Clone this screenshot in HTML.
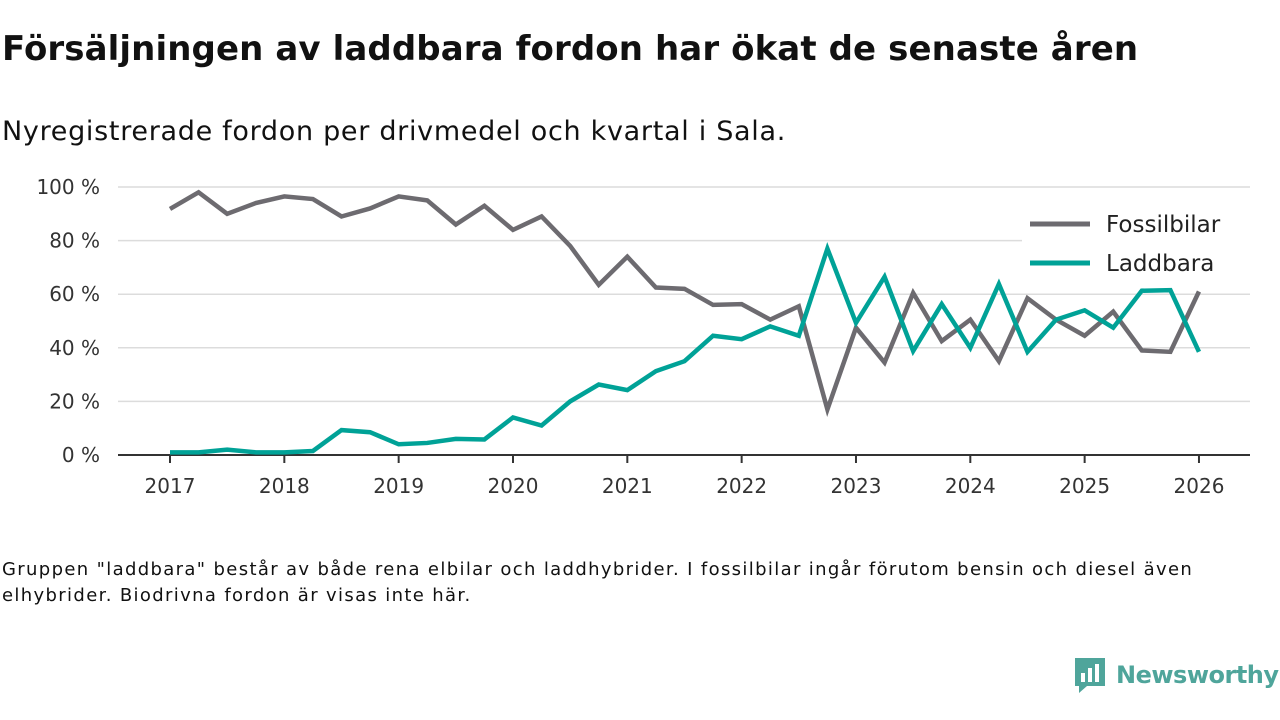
<!DOCTYPE html>
<html><head><meta charset="utf-8"><style>
body{margin:0;width:1280px;height:720px;background:#fff;font-family:"DejaVu Sans","Liberation Sans",sans-serif;overflow:hidden;position:relative}
.t{position:absolute;left:2px;top:29px;font-size:34px;font-weight:bold;color:#111;letter-spacing:0.1px;white-space:nowrap}
.s{position:absolute;left:2px;top:116px;font-size:27px;color:#111;letter-spacing:0.7px;white-space:nowrap}
.n{position:absolute;left:2px;top:557px;font-size:18px;color:#111;line-height:26px;width:1235px;letter-spacing:1.35px}
</style></head><body>
<div class="t">Försäljningen av laddbara fordon har ökat de senaste åren</div>
<div class="s">Nyregistrerade fordon per drivmedel och kvartal i Sala.</div>
<svg id="c" width="1280" height="720" style="position:absolute;left:0;top:0"></svg>
<div class="n">Gruppen "laddbara" består av både rena elbilar och laddhybrider. I fossilbilar ingår förutom bensin och diesel även elhybrider. Biodrivna fordon är visas inte här.</div>
<div style="position:absolute;left:1073px;top:656px;display:flex;align-items:center">
<svg width="34" height="38" viewBox="0 0 34 38"><path d="M2 2h30v28H14l-8 7v-7H2z" fill="#4fa59b"/><rect x="8" y="17" width="4" height="9" fill="#fff"/><rect x="15" y="12" width="4" height="14" fill="#fff"/><rect x="22" y="8" width="4" height="18" fill="#fff"/></svg>
<span style="font-size:24px;font-weight:bold;color:#4fa59b;margin-left:9px;letter-spacing:-0.5px">Newsworthy</span></div>
<script>
const years=[2017,2018,2019,2020,2021,2022,2023,2024,2025,2026];
const yTicks=[0,20,40,60,80,100];
const fossil=[91.8,98,90,94,96.5,95.5,89,92,96.5,95,86,93,84,89,78,63.5,74,62.5,62,56,56.3,50.5,55.5,17,47.5,34.5,60.5,42.5,50.5,35,58.5,50.5,44.5,53.5,39,38.5,61];
const laddbara=[1,1,2,1,1,1.5,9.3,8.5,4,4.5,6,5.8,14,11,20,26.3,24.2,31.3,35,44.5,43.2,48,44.5,77,49.3,66.5,38.8,56.3,40,63.8,38.5,50.5,54,47.5,61.3,61.5,38.5];
const svg=document.getElementById('c');const NS='http://www.w3.org/2000/svg';
const X=v=>170+(v-2017)*114.33, Y=v=>455-v*2.68;
function el(t,a,txt){const e=document.createElementNS(NS,t);for(const k in a)e.setAttribute(k,a[k]);if(txt!=null)e.textContent=txt;svg.appendChild(e);return e;}
yTicks.forEach(v=>{
 if(v>0){const g=el('line',{x1:118,x2:1250,y1:Y(v),y2:Y(v),stroke:'#dcdcdc','stroke-width':1.5});
 
 }
 const t=el('text',{x:100,y:Y(v)+7,'text-anchor':'end','font-size':20,fill:'#333'},v+' %');
 
 
});
const ax=el('line',{x1:118,x2:1250,y1:455,y2:455,stroke:'#333','stroke-width':2});


years.forEach(y=>{
 const tk=el('line',{x1:X(y),x2:X(y),y1:455,y2:463,stroke:'#333','stroke-width':2});
 
 
 const t=el('text',{x:X(y),y:493,'text-anchor':'middle','font-size':20,fill:'#333'},y);
 
 
});
function line(d,c,n){const p=el('polyline',{points:d.map((v,i)=>X(2017+i/4)+','+Y(v)).join(' '),fill:'none',stroke:c,'stroke-width':4.5,'stroke-linejoin':'miter'});
 
 }
line(fossil,'#6d6b70','fossilbilar-line');
line(laddbara,'#00a297','laddbara-line');
const bg=el('rect',{x:1022,y:206,width:228,height:80,fill:'#fff'});


[['Fossilbilar','#6d6b70',224],['Laddbara','#00a297',263]].forEach(([n,c,y])=>{
 const l=el('line',{x1:1030,x2:1090,y1:y,y2:y,stroke:c,'stroke-width':5});
 
 
 const t=el('text',{x:1106,y:y+8,'font-size':23,fill:'#222'},n);
 
 
});
</script>
</body></html>
